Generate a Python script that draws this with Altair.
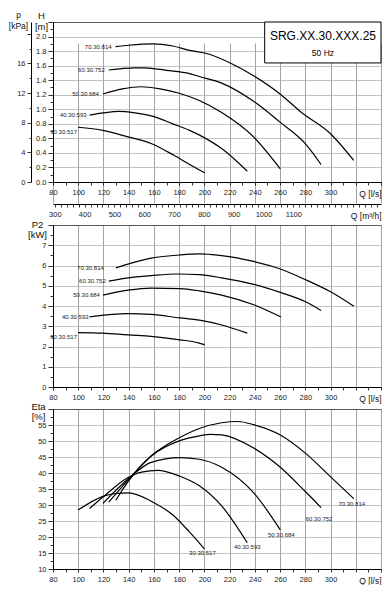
import altair as alt
import pandas as pd

# ---------------- data ----------------
MODELS = ["70.30.814", "60.30.752", "50.30.684", "40.30.593", "30.30.517"]

# Head H [m] against Q [l/s]
H_Q_70 = [129.6, 140, 159, 175, 188.3, 201, 221.3, 239, 260.7, 277, 300, 318.4]
H_70 = [1.86, 1.88, 1.90, 1.87, 1.81, 1.77, 1.63, 1.46, 1.20, 0.955, 0.663, 0.296]
H_Q_60 = [124.2, 145, 152.7, 170, 188.3, 196, 213.7, 239, 260.2, 279.8, 292.5]
H_60 = [1.54, 1.57, 1.57, 1.535, 1.49, 1.45, 1.36, 1.11, 0.82, 0.53, 0.24]
H_Q_50 = [119.6, 135, 150, 165, 180, 196, 213.7, 239, 260.2]
H_50 = [1.21, 1.28, 1.31, 1.28, 1.22, 1.12, 0.955, 0.62, 0.18]
H_Q_40 = [109, 120, 132.4, 145, 157.8, 175, 188.3, 201, 213.7, 234]
H_40 = [0.92, 0.95, 0.97, 0.95, 0.91, 0.80, 0.71, 0.60, 0.46, 0.148]
H_Q_30 = [99.8, 119.6, 139.5, 157.8, 175.5, 188.3, 200.2]
H_30 = [0.753, 0.71, 0.62, 0.53, 0.37, 0.24, 0.125]

# Power P2 [kW]
P_Q_70 = [129.8, 157.8, 180.6, 196, 213.7, 239.1, 260.2, 279.8, 300.1, 318.4]
P_70 = [5.88, 6.36, 6.52, 6.57, 6.49, 6.20, 5.83, 5.31, 4.70, 3.99]
P_Q_60 = [124.2, 139.5, 157.8, 178.1, 196, 213.7, 239.1, 260.2, 279.8, 292.5]
P_60 = [5.23, 5.39, 5.50, 5.58, 5.55, 5.39, 5.07, 4.67, 4.22, 3.78]
P_Q_50 = [119.6, 139.5, 157.8, 180.6, 196, 213.7, 239.1, 260.7]
P_50 = [4.54, 4.78, 4.88, 4.86, 4.75, 4.54, 4.06, 3.46]
P_Q_40 = [109, 139.5, 157.8, 180.6, 196, 213.7, 234]
P_40 = [3.46, 3.62, 3.59, 3.41, 3.30, 3.06, 2.66]
P_Q_30 = [99.8, 119.6, 139.5, 157.8, 180.6, 196, 200.2]
P_30 = [2.69, 2.66, 2.57, 2.50, 2.33, 2.17, 2.09]

# Efficiency Eta [%]
E_Q_70 = [129.8, 139.5, 157.8, 180.6, 196, 213.7, 226.4, 239.1, 260.2, 279.8, 300.1, 318.4]
E_70 = [31.5, 37.3, 45.3, 51.1, 53.9, 55.7, 56.1, 55.1, 51.9, 46.3, 38.8, 32.0]
E_Q_60 = [124.2, 139.5, 157.8, 180.6, 196, 205, 213.7, 239.1, 260.2, 279.8, 292.5]
E_60 = [30.9, 37.8, 45.3, 50.1, 51.6, 52.1, 51.9, 47.8, 41.8, 34.3, 29.2]
E_Q_50 = [119.6, 139.5, 157.8, 180.6, 196, 213.7, 239.1, 260.2]
E_50 = [30.5, 38.1, 43.3, 44.8, 44.3, 41.8, 33.8, 22.2]
E_Q_40 = [109, 119.6, 139.5, 150.2, 162.9, 180.6, 196, 213.7, 234]
E_40 = [28.9, 32.5, 38.6, 40.3, 40.8, 39.0, 36.0, 29.7, 18.2]
E_Q_30 = [99.8, 119.6, 129.8, 140, 157.8, 175.5, 188.3, 200]
E_30 = [28.4, 32.7, 33.6, 33.8, 31.2, 26.7, 21.5, 16.3]

# Axis ticks / labels
Q_TICKS = list(range(80, 341, 10))
H_TICKS = [round(i * 0.1, 1) for i in range(23)]
KPA_TICKS = list(range(0, 21, 2))
M3H_TICKS = list(range(300, 1381, 20))
P_TICKS = [i * 0.5 for i in range(17)]
E_TICKS = [10 + 2.5 * i for i in range(21)]

TYPE_NAME = ["SRG.XX.30.XXX.25"]
FREQ_NAME = ["50 Hz"]
BOX_Q = [247.8, 340]
BOX_H = [2.2, 1.637]

# ---------------- layout / style ----------------
W = 328
TOP_H = 160
TOP_EXT = 21
P2_H = 162
ETA_H = 160
FONT = "Liberation Sans"
GRID_X = "#8c8c8c"
GRID_Y = "#b4b4b4"
FRAME = "#303030"
KPA_PER_M = 9.80665


def long(pairs):
    rows = []
    for m, (qs, vs) in zip(MODELS, pairs):
        for i, (q, v) in enumerate(zip(qs, vs)):
            rows.append({"model": m, "Q": q, "v": v, "i": i})
    return pd.DataFrame(rows)


df_h = long([(H_Q_70, H_70), (H_Q_60, H_60), (H_Q_50, H_50), (H_Q_40, H_40), (H_Q_30, H_30)])
df_p = long([(P_Q_70, P_70), (P_Q_60, P_60), (P_Q_50, P_50), (P_Q_40, P_40), (P_Q_30, P_30)])
df_e = long([(E_Q_70, E_70), (E_Q_60, E_60), (E_Q_50, E_50), (E_Q_40, E_40), (E_Q_30, E_30)])

xq = alt.Scale(domain=[80, 340], nice=False, zero=False)


def q_axis(offset=0):
    return alt.Axis(
        orient="bottom", offset=offset, values=Q_TICKS,
        labelExpr="datum.value % 20 == 0 && datum.value <= 300 ? datum.label : ''",
        labelFlush=False, labelOverlap=False, labelPadding=3, tickSize=3,
        grid=True, gridColor=GRID_X,
        gridOpacity={"condition": {"test": "datum.value % 20 == 0", "value": 1}, "value": 0},
        title="Q [l/s]", titleX=W, titleY=11, titleAlign="right", titleAnchor="end",
        titleBaseline="middle", titleFontSize=8.5,
    )


def y_axis(values, major, label_test, fmt, title, tx, ty, top, lh=11):
    return alt.Axis(
        orient="left", values=values,
        labelExpr=f"({major}) && ({label_test}) ? format(datum.value, '{fmt}') : ''",
        tickSize={"condition": {"test": major, "value": 5}, "value": 3},
        grid=True,
        gridOpacity={"condition": {"test": major, "value": 1}, "value": 0},
        gridColor={"condition": {"test": f"datum.value >= {top}", "value": FRAME}, "value": GRID_Y},
        labelFlush=False, labelOverlap=False, labelPadding=2,
        title=title, titleAngle=0, titleAlign="center", titleBaseline="top",
        titleX=tx, titleY=ty, titleLineHeight=lh,
    )


def panel(df, ys, xax, yax, offsets, last=False, align="right", extras=()):
    X = alt.X("Q:Q", scale=xq, axis=xax)
    Y = alt.Y("v:Q", scale=ys, axis=yax)
    layers = [alt.Chart(df).mark_line(interpolate="monotone", color="black", strokeWidth=1.2).encode(
        x=X, y=Y, detail="model:N", order="i:Q")]
    for m in MODELS:
        sub = df[df.model == m]
        row = sub.iloc[[-1]] if last else sub.iloc[[0]]
        dx, dy = offsets[m]
        layers.append(
            alt.Chart(row).mark_text(align=align, baseline="middle", dx=dx, dy=dy, fontSize=6,
                                     color="#222", font=FONT).encode(x=X, y=Y, text="model:N")
        )
    for e in extras:
        layers.append(e(X, Y))
    return alt.layer(*layers)


# ---------------- top panel: H / p ----------------
yH = alt.Scale(domain=[0, 2.2], range=[TOP_H, 0], nice=False, zero=False)
h_axis = y_axis(H_TICKS, "round(datum.value*10) % 2 == 0", "datum.value < 2.1", ".1f",
                ["H", "[m]"], -12, -12, 2.19)

box_df = pd.DataFrame({"Q": [BOX_Q[0]], "Q2": [BOX_Q[1]], "v": [BOX_H[0]], "v2": [BOX_H[1]]})


def box(X, Y):
    return alt.Chart(box_df).mark_rect(fill="white", stroke="black", strokeWidth=1).encode(
        x=X, x2="Q2", y=Y, y2="v2")


def t1(X, Y):
    return alt.Chart(pd.DataFrame({"Q": [294.0], "v": [2.008], "t": TYPE_NAME})).mark_text(
        fontSize=12, font=FONT, color="black", baseline="middle").encode(x=X, y=Y, text="t:N")


def t2(X, Y):
    return alt.Chart(pd.DataFrame({"Q": [294.0], "v": [1.775], "t": FREQ_NAME})).mark_text(
        fontSize=8.5, font=FONT, color="black", baseline="middle").encode(x=X, y=Y, text="t:N")


top_main = panel(df_h, yH, q_axis(-TOP_EXT), h_axis,
                 {"70.30.814": (-4, 0), "60.30.752": (-4, 0), "50.30.684": (-4, 0),
                  "40.30.593": (-3, 0), "30.30.517": (-1, 5)}, extras=(box, t1, t2))

m3h_layer = alt.Chart(pd.DataFrame({"m3h": [300, 1300]})).mark_point(opacity=0).encode(
    x=alt.X("m3h:Q", scale=alt.Scale(domain=[294, 1394], nice=False, zero=False),
            axis=alt.Axis(orient="bottom", offset=1, values=M3H_TICKS,
                          labelExpr="datum.value % 100 == 0 && datum.value <= 1100 ? format(datum.value, 'd') : ''",
                          labelFlush=False, labelOverlap=False, labelPadding=3, tickSize=3, grid=False,
                          title="Q [m³/h]", titleX=W, titleY=11, titleAlign="right",
                          titleAnchor="end", titleBaseline="middle", titleFontSize=8.5))
)
kpa_layer = alt.Chart(pd.DataFrame({"kpa": [0, 20]})).mark_point(opacity=0).encode(
    y=alt.Y("kpa:Q", scale=alt.Scale(domain=[0, 2.2 * KPA_PER_M], range=[TOP_H, 0], nice=False, zero=False),
            axis=alt.Axis(orient="left", offset=22, values=KPA_TICKS,
                          labelExpr="datum.value % 4 == 0 && datum.value <= 16 ? datum.label : ''",
                          tickSize={"condition": {"test": "datum.value % 4 == 0", "value": 4}, "value": 2},
                          labelFlush=False, labelOverlap=False, labelPadding=2, grid=False,
                          title=["p", "[kPa]"], titleAngle=0, titleAlign="center", titleBaseline="top",
                          titleX=-13, titleY=-12, titleLineHeight=11, titleFontSize=8.5))
)

top = alt.layer(top_main, m3h_layer, kpa_layer).resolve_scale(
    x="independent", y="independent").properties(width=W, height=TOP_H + TOP_EXT)

# ---------------- P2 panel ----------------
yP = alt.Scale(domain=[0, 8], nice=False, zero=False)
p_axis = y_axis(P_TICKS, "datum.value % 1 == 0", "datum.value < 7.5", "d",
                ["P2", "[kW]"], -16, -6, 7.99, lh=10)
p2 = panel(df_p, yP, q_axis(0), p_axis,
           {"70.30.814": (-12, 0), "60.30.752": (-3, 0), "50.30.684": (-3, 0),
            "40.30.593": (-1, 0), "30.30.517": (-1, 4)}).properties(width=W, height=P2_H)

# ---------------- Eta panel ----------------
yE = alt.Scale(domain=[10, 60], nice=False, zero=False)
e_axis = y_axis(E_TICKS, "datum.value % 5 == 0", "datum.value < 57", "d",
                ["Eta", "[%]"], -15, -8, 59.9, lh=10)
eta = panel(df_e, yE, q_axis(0), e_axis,
            {"70.30.814": (-2, 5), "60.30.752": (-2, 11), "50.30.684": (1, 5),
             "40.30.593": (0, 4), "30.30.517": (-2, 4)}, last=True, align="center").properties(
    width=W, height=ETA_H)

chart = alt.vconcat(top, p2, eta, spacing=22, bounds="flush").properties(
    padding={"left": 0, "top": 2, "right": 0, "bottom": 0}
).configure(font=FONT).configure_axis(
    labelFont=FONT, labelFontSize=7.5, labelColor="#222", labelOverlap=False,
    titleFont=FONT, titleFontSize=9.5, titleFontWeight="normal", titleColor="#111",
    domainColor="black", tickColor="black", domainWidth=1, tickWidth=0.8, gridWidth=0.8,
).configure_view(strokeWidth=0)

chart.save("out.html", embed_options={"renderer": "svg", "actions": False})
